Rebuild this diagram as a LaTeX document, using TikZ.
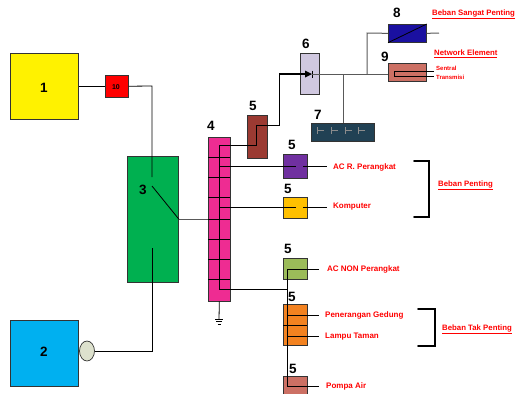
\documentclass[tikz,border=0pt]{standalone}
\usepackage{fontspec}
\setmainfont{Liberation Sans}
\usetikzlibrary{positioning,shapes.geometric}
\tikzset{
  box/.style={draw=black!80, line width=0.7pt, inner sep=0pt, anchor=north west},
  wire/.style={black, line width=0.8pt},
  gwire/.style={black!65, line width=1pt},
  num/.style={font=\bfseries\fontsize{13.5}{14}\selectfont, inner sep=0pt},
  lbl/.style={red, font=\bfseries\fontsize{8}{9}\selectfont, inner sep=0pt, anchor=west},
  head/.style={red, font=\bfseries\fontsize{7.8}{9}\selectfont, inner sep=0pt, anchor=west},
  small/.style={red, font=\bfseries\fontsize{6}{7}\selectfont, inner sep=0pt, anchor=west},
  brace/.style={black, line width=1.8pt, line cap=round}
}
\definecolor{cgreen}{RGB}{0,176,80}
\definecolor{cblue}{RGB}{0,176,240}
\definecolor{cpink}{RGB}{238,44,146}
\definecolor{cbrown}{RGB}{155,58,50}
\definecolor{cdiode}{RGB}{208,200,224}
\definecolor{cteal}{RGB}{33,65,84}
\definecolor{cnavy}{RGB}{26,16,160}
\definecolor{crose}{RGB}{204,112,100}
\definecolor{cviolet}{RGB}{112,48,160}
\definecolor{cgold}{RGB}{255,192,0}
\definecolor{colive}{RGB}{155,187,89}
\definecolor{corange}{RGB}{243,130,32}
\definecolor{cmotor}{RGB}{221,225,205}
\begin{document}
\begin{tikzpicture}[x=1pt,y=-1pt]
  \useasboundingbox (0,0) rectangle (515,394);
  % Sumber
  \node[box, fill=yellow, minimum width=68pt, minimum height=66pt] (pln) at (10,53) {};
  \node[box, fill=cblue, minimum width=68pt, minimum height=66pt] (genset) at (10,320) {};
  \node[box, fill=red, minimum width=23pt, minimum height=22pt] (fuse) at (105,75) {};
  \node[box, fill=cgreen, minimum width=51pt, minimum height=126pt] (ats) at (127,156) {};
  \node[draw=black!80, fill=cmotor, ellipse, minimum width=15pt, minimum height=20pt, inner sep=0pt, line width=0.7pt] (motor) at (87,351) {};
  \node[num] at (44,88) {1};
  \node[num] at (44,352) {2};
  \node[num] at (143,190) {3};
  \node[font=\bfseries\fontsize{7}{7}\selectfont, inner sep=0pt] at (116,87) {10};
  % Panel
  \node[box, fill=cpink, minimum width=22pt, minimum height=164pt] (panel) at (208,137) {};
  \foreach \y in {157,177,197,219,239,259,279} \draw[wire] (208,\y) -- (230,\y);
  \node[num] at (211,126) {4};
  % Kiri
  \coordinate (swa) at (152,177);
  \coordinate (swb) at (152,248);
  \coordinate (swc) at (152,186);
  \draw[wire] (pln) -- (fuse);
  \draw[wire] (fuse) -- (152,86) -- (swa);
  \draw[wire] (motor) -- (152,351) -- (swb);
  \draw[wire] (swc) -- (ats.east |- 0,219);
  \draw[gwire] (ats.east |- 0,219) -- (208,219);
  % Penyearah
  \node[box, fill=cbrown, minimum width=20pt, minimum height=43pt] (rect) at (247,115) {};
  \node[num] at (253,106) {5};
  \draw[wire] (219,289) -- (219,145) -- (256,145) -- (256,125) -- (279,125) -- (279,74);
  \node[box, fill=cdiode, minimum width=19pt, minimum height=41pt] (diode) at (300,53) {};
  \node[num] at (306,44) {6};
  \draw[line width=1.2pt] (279,74) -- (305,74);
  \fill (305,70.5) -- (312,74) -- (305,77.5) -- cycle;
  \draw[line width=1pt] (312,70.5) -- (312,77.5);
  \draw[gwire] (312,74) -- (388,74);
  \node[box, fill=cteal, minimum width=63pt, minimum height=18pt] (batt) at (311,123) {};
  \node[num] at (318,115) {7};
  \foreach \x in {317,331,345,358} {
    \draw[black!45, line width=0.8pt] (\x,127) -- (\x,134);
    \draw[black!45, line width=0.8pt] (\x,130.5) -- (\x+7,130.5);
  }
  \draw[gwire] (343,74) -- (batt.north -| 343,0);
  % Beban atas
  \node[box, fill=cnavy, minimum width=38pt, minimum height=18pt] (inv) at (388,24) {};
  \node[num] at (397,13) {8};
  \draw[wire] (inv.south west) -- (inv.north east);
  \draw[gwire] (367,74) -- (367,33) -- (inv.west);
  \draw[gwire] (inv.east) -- (439,33);
  \node[box, fill=crose, minimum width=38pt, minimum height=18pt] (ne) at (388,63) {};
  \node[num] at (385,57) {9};
  \draw[wire] (434,71) -- (394,71) -- (394,76) -- (434,76);
  \node[head] at (432,14) {\underline{Beban Sangat Penting}};
  \node[head] at (434,54) {\underline{Network Element}};
  \node[small] at (436,68) {Sentral};
  \node[small] at (436,77) {Transmisi};
  % Beban penting
  \node[box, fill=cviolet, minimum width=24pt, minimum height=24pt] (acr) at (283,154) {};
  \node[num] at (292,145) {5};
  \draw[wire] (219,166) -- (296,166);
  \draw[wire] (303,166) -- (327,166);
  \node[lbl] at (333,167) {AC R. Perangkat};
  \node[box, fill=cgold, minimum width=24pt, minimum height=21pt] (kom) at (283,197) {};
  \node[num] at (288,189) {5};
  \draw[wire] (219,207) -- (296,207);
  \draw[wire] (303,207) -- (327,207);
  \node[lbl] at (333,207) {Komputer};
  \draw[brace] (414,161) -- (429,161) -- (429,217) -- (414,217);
  \node[head] at (438,185) {\underline{Beban Penting}};
  % Beban tak penting
  \node[box, fill=colive, minimum width=24pt, minimum height=21pt] (acn) at (283,258) {};
  \node[num] at (288,249) {5};
  \node[box, fill=corange, minimum width=24pt, minimum height=41pt] (gedung) at (283,304) {};
  \node[num] at (292,297) {5};
  \node[box, fill=crose, minimum width=24pt, minimum height=30pt] (pompa) at (283,376) {};
  \node[num] at (293,369) {5};
  \draw[wire] (219,289) -- (287,289);
  \draw[wire] (319,269) -- (287,269) -- (287,386) -- (319,386);
  \draw[wire] (283,325) -- (307,325);
  \draw[wire] (287,315) -- (319,315);
  \draw[wire] (287,336) -- (319,336);
  \node[lbl] at (327,269) {AC NON Perangkat};
  \node[lbl] at (325,315) {Penerangan Gedung};
  \node[lbl] at (325,337) {Lampu Taman};
  \draw[brace] (418,309) -- (435,309) -- (435,346) -- (418,346);
  \node[head] at (442,329) {\underline{Beban Tak Penting}};
  \node[lbl] at (326,386) {Pompa Air};
  % Ground
  \coordinate (gnd) at (219,319);
  \draw[wire] (panel.south) -- (gnd);
  \draw[wire] (215,319) -- (223,319);
  \draw[wire] (216,321.5) -- (222,321.5);
  \draw[wire] (217.5,324) -- (220.5,324);
\end{tikzpicture}
\end{document}
